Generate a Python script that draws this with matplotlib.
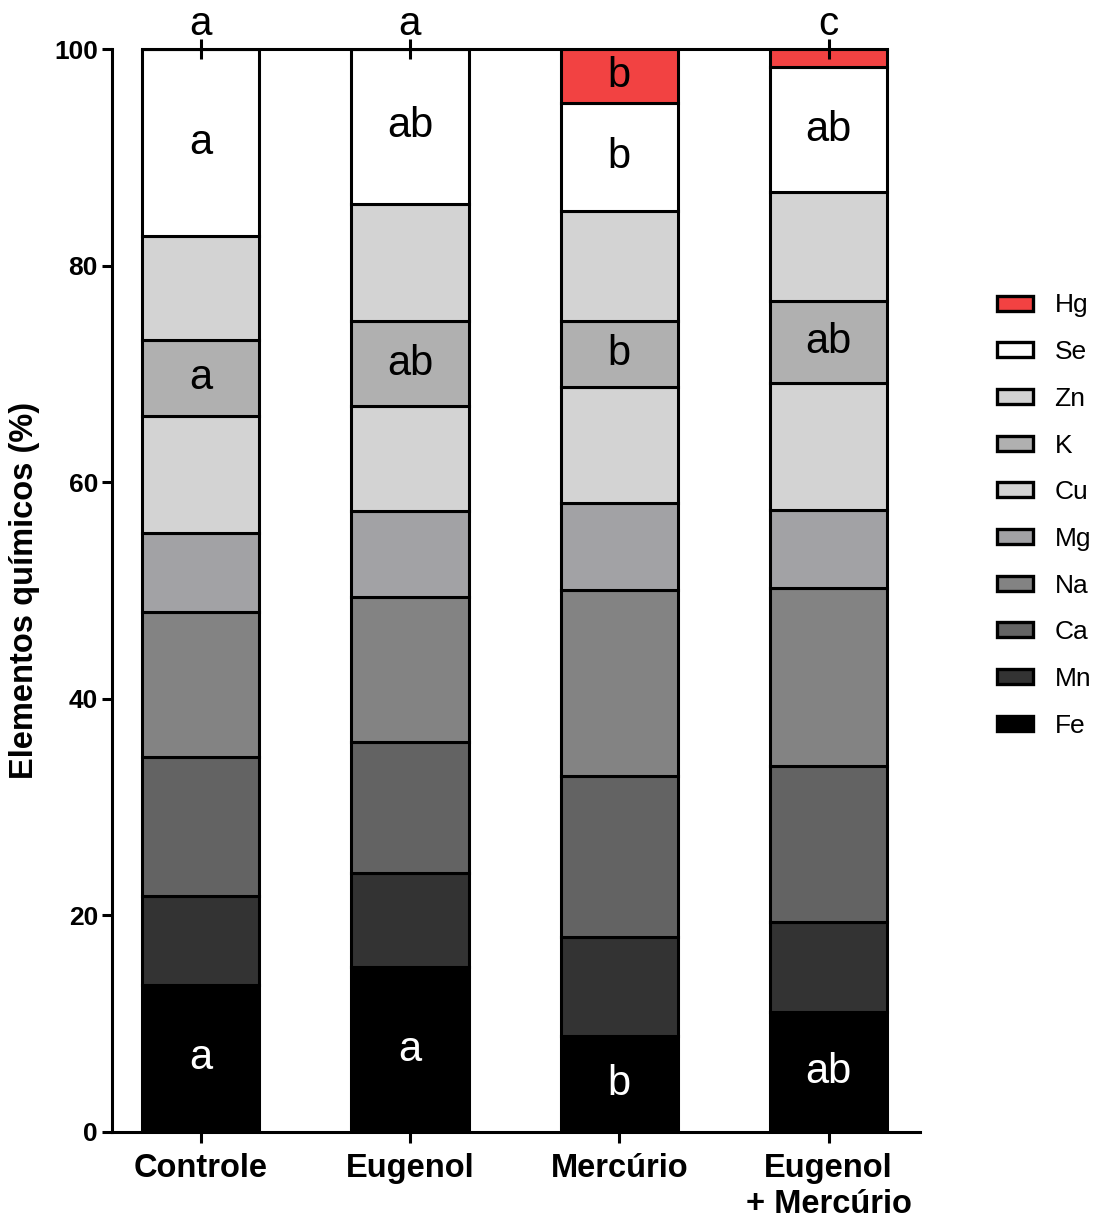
import numpy as np
import matplotlib.pyplot as plt
from matplotlib.patches import Patch

plt.rcParams['font.family'] = ['Liberation Sans', 'DejaVu Sans']

groups = ['Controle', 'Eugenol', 'Mercúrio', 'Eugenol\n+ Mercúrio']
elements = ['Fe', 'Mn', 'Ca', 'Na', 'Mg', 'Cu', 'K', 'Zn', 'Se', 'Hg']

# percentage of each element per group (bottom to top)
fe = [13.6, 15.2, 8.9, 11.1]
mn = [8.2, 8.7, 9.1, 8.3]
ca = [12.8, 12.1, 14.9, 14.4]
na = [13.4, 13.4, 17.1, 16.4]
mg = [7.3, 7.9, 8.1, 7.2]
cu = [10.8, 9.7, 10.7, 11.8]
k = [7.0, 7.9, 6.1, 7.5]
zn = [9.6, 10.8, 10.1, 10.1]
se = [17.3, 14.3, 10.0, 11.5]
hg = [0.0, 0.0, 5.0, 1.7]

colors = ['#000000', '#333333', '#636363', '#838383', '#a2a2a5',
          '#d3d3d3', '#b0b0b0', '#d3d3d3', '#ffffff', '#f24242']

# significance letters inside segments
letters_fe = ['a', 'a', 'b', 'ab']
letters_k = ['a', 'ab', 'b', 'ab']
letters_se = ['a', 'ab', 'b', 'ab']
letters_hg = ['', '', 'b', '']
top_letters = ['a', 'a', '', 'c']

data = [fe, mn, ca, na, mg, cu, k, zn, se, hg]

fig = plt.figure(figsize=(10.96, 12.19), dpi=100)
ax = fig.add_axes([0.102, 0.0714, 0.737, 0.8884])

x = np.arange(len(groups))
w = 0.56
bottom = np.zeros(len(groups))
for vals, col in zip(data, colors):
    vals = np.array(vals)
    ax.bar(x, vals, w, bottom=bottom, color=col, edgecolor='black',
           linewidth=2.2, zorder=2)
    bottom += vals

# segment letters
def seg_mid(idx):
    base = np.sum(data[:idx], axis=0)
    return base + np.array(data[idx]) / 2

for idx, labels, tcol in [(0, letters_fe, 'white'), (6, letters_k, 'black'),
                          (8, letters_se, 'black'), (9, letters_hg, 'black')]:
    mids = seg_mid(idx)
    for i, lab in enumerate(labels):
        if lab:
            ax.text(x[i], mids[i], lab, ha='center', va='center',
                    fontsize=30, color=tcol, zorder=3)

ax.set_xlim(-0.425, 3.435)
ax.set_ylim(0, 100)
ax.set_yticks([0, 20, 40, 60, 80, 100])
ax.set_xticks(x)
ax.set_xticklabels(groups, fontsize=23.5, fontweight='bold', linespacing=1.22)
for lab in ax.get_yticklabels():
    lab.set_fontweight('bold')
ax.tick_params(axis='y', labelsize=19, width=2.2, length=7, pad=3)
ax.tick_params(axis='x', width=2.2, length=8, pad=7)
ax.set_ylabel('Elementos químicos (%)', fontsize=23.5, fontweight='bold', labelpad=10)

for side in ['top', 'right']:
    ax.spines[side].set_visible(False)
for side in ['left', 'bottom']:
    ax.spines[side].set_linewidth(2.2)

# upper axis with letters for the whole profile
ax2 = ax.twiny()
ax2.set_xlim(ax.get_xlim())
ax2.spines['top'].set_bounds(-w / 2, x[-1] + w / 2)
ax2.spines['top'].set_linewidth(2.2)
for side in ['left', 'right', 'bottom']:
    ax2.spines[side].set_visible(False)
top_pos = [xi for xi, t in zip(x, top_letters) if t]
ax2.set_xticks(top_pos)
ax2.set_xticklabels([t for t in top_letters if t], fontsize=29)
ax2.tick_params(axis='x', direction='inout', width=2.2, length=14, pad=-3)

handles = [Patch(facecolor=c, edgecolor='black', linewidth=2.4)
           for c in colors[::-1]]
ax.legend(handles, elements[::-1], loc='upper left',
          bbox_to_anchor=(1.083, 0.784), frameon=False, fontsize=19,
          handlelength=1.37, handleheight=0.5, handletextpad=0.8,
          labelspacing=0.86, borderaxespad=0)

fig.savefig('out.png', dpi=100)
